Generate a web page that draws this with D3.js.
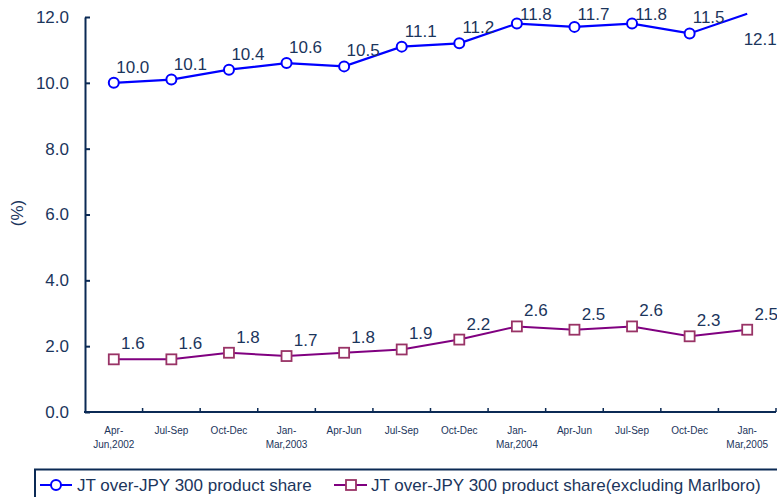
<!DOCTYPE html>
<html><head><meta charset="utf-8">
<script src="https://cdn.jsdelivr.net/npm/d3@7"></script>
<style>body{margin:0;background:#fff}svg{display:block}text{font-family:"Liberation Sans",Arial,sans-serif}</style>
</head><body><svg id="c" width="777" height="497"></svg>
<script>
const categories = [["Apr-","Jun,2002"],["Jul-Sep"],["Oct-Dec"],["Jan-","Mar,2003"],["Apr-Jun"],["Jul-Sep"],["Oct-Dec"],["Jan-","Mar,2004"],["Apr-Jun"],["Jul-Sep"],["Oct-Dec"],["Jan-","Mar,2005"]];
const shareAll = [10.0,10.1,10.4,10.6,10.5,11.1,11.2,11.8,11.7,11.8,11.5,12.1];
const shareExMarlboro = [1.6,1.6,1.8,1.7,1.8,1.9,2.2,2.6,2.5,2.6,2.3,2.5];
const yTicks = [0,2,4,6,8,10,12];
const seriesNames = ["JT over-JPY 300 product share","JT over-JPY 300 product share(excluding Marlboro)"];

const textColor = "#1b355c", axisColor = "#0b2a55";
const svg = d3.select("#c");
const idx = categories.map((d,i)=>i);
const x = d3.scaleBand().domain(idx).range([85,776]).padding(0);
const y = d3.scaleLinear().domain([0,12]).range([412,17]);

// y axis
const ya = svg.append("g").attr("transform","translate(85,0)")
  .call(d3.axisLeft(y).tickValues(yTicks).tickFormat(d3.format(".1f")).tickSizeInner(-5).tickSizeOuter(0).tickPadding(16));
ya.select(".domain").attr("stroke",axisColor).attr("stroke-width",2);
ya.selectAll(".tick line").attr("stroke",axisColor).attr("stroke-width",2);
ya.selectAll(".tick text").attr("fill",textColor).style("font-size","17px").attr("font-family","Liberation Sans, Arial, sans-serif");

// x axis
const xa = svg.append("g").attr("transform","translate(0,412)");
xa.append("line").attr("x1",x.range()[0]-1).attr("x2",x.range()[1]).attr("stroke",axisColor).attr("stroke-width",2);
xa.selectAll("line.t").data(idx).enter().append("line").attr("class","t")
  .attr("x1",d=>x(d)+x.bandwidth()).attr("x2",d=>x(d)+x.bandwidth()).attr("y1",0).attr("y2",-4)
  .attr("stroke",axisColor).attr("stroke-width",1.5);
const xl = xa.selectAll("text.c").data(idx).enter().append("text").attr("class","c")
  .attr("text-anchor","middle").attr("fill",textColor).style("font-size","10px");
xl.each(function(d){
  const t = d3.select(this);
  categories[d].forEach((s,j)=>{
    t.append("tspan").attr("x",x(d)+x.bandwidth()/2).attr("y",22+j*14).text(s);
  });
});

// y label
svg.append("text").attr("transform","translate(23,213) rotate(-90)").attr("text-anchor","middle")
  .attr("fill",textColor).style("font-size","17px").text("(%)");

const cx = i => x(i)+x.bandwidth()/2;
const line = d3.line().x((d,i)=>cx(i)).y(d=>y(d));
const yMax = y.domain()[1];

function drawSeries(data,color,markerColor,shape,lw){
  svg.append("path").datum(data).attr("d",line).attr("fill","none").attr("stroke",color).attr("stroke-width",lw);
  const pts = data.map((v,i)=>({v,i})).filter(p=>p.v<=yMax);
  if(shape==="circle"){
    svg.selectAll(null).data(pts).enter().append("circle").attr("cx",p=>cx(p.i)).attr("cy",p=>y(p.v)).attr("r",5)
      .attr("fill","#fff").attr("stroke",markerColor).attr("stroke-width",2);
  } else {
    svg.selectAll(null).data(pts).enter().append("rect").attr("x",p=>cx(p.i)-5).attr("y",p=>y(p.v)-5)
      .attr("width",10).attr("height",10).attr("fill","#fff").attr("stroke",markerColor).attr("stroke-width",1.8);
  }
  svg.selectAll(null).data(data.map((v,i)=>({v,i}))).enter().append("text")
    .attr("x",p=>cx(p.i)+(p.v>yMax?13:19))
    .attr("y",p=>p.v>yMax ? y(p.v)+31 : Math.max(20, y(p.v)-10))
    .attr("text-anchor","middle").attr("fill",textColor).style("font-size","17px")
    .text(p=>d3.format(".1f")(p.v));
}
drawSeries(shareExMarlboro,"#800080","#993366","square",2);
drawSeries(shareAll,"#0000ff","#0000ff","circle",2.2);

// legend
const lg = svg.append("g");
lg.append("rect").attr("x",35).attr("y",469.5).attr("width",760).attr("height",40).attr("fill","none").attr("stroke",axisColor).attr("stroke-width",2);
lg.append("line").attr("x1",40).attr("x2",72).attr("y1",485).attr("y2",485).attr("stroke","#0000ff").attr("stroke-width",2);
lg.append("circle").attr("cx",56).attr("cy",485).attr("r",5).attr("fill","#fff").attr("stroke","#0000ff").attr("stroke-width",2);
lg.append("text").attr("x",77).attr("y",491).attr("fill",textColor).style("font-size","17px").text(seriesNames[0]);
lg.append("line").attr("x1",334).attr("x2",367).attr("y1",485).attr("y2",485).attr("stroke","#800080").attr("stroke-width",2);
lg.append("rect").attr("x",346).attr("y",480).attr("width",10).attr("height",10).attr("fill","#fff").attr("stroke","#993366").attr("stroke-width",1.8);
lg.append("text").attr("x",371).attr("y",491).attr("fill",textColor).style("font-size","17px").text(seriesNames[1]);
</script></body></html>
